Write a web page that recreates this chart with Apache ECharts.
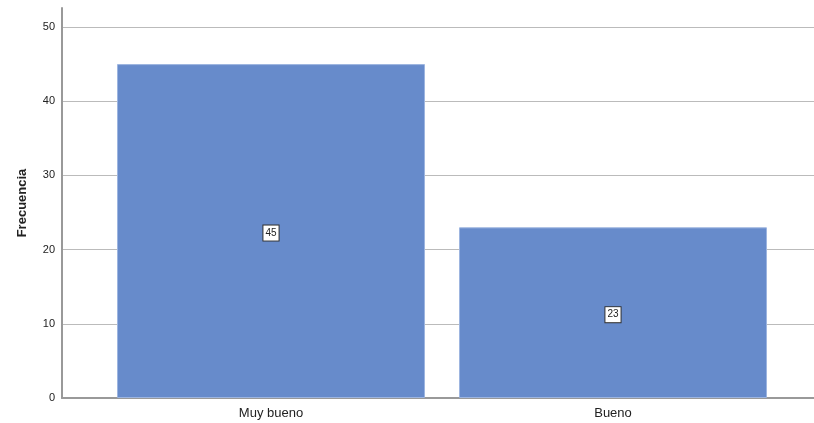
<!DOCTYPE html>
<html><head><meta charset="utf-8">
<script src="https://cdn.jsdelivr.net/npm/echarts@6/dist/echarts.min.js"></script>
<style>html,body{margin:0;padding:0;background:#fff}#c{width:814px;height:423px}</style>
</head><body><div id="c"></div>
<script>
const categories = ['Muy bueno', 'Bueno'];
const frecuencia = [45, 23];
const yTicks = [0, 10, 20, 30, 40, 50];

const yMax = 52.56;
const chart = echarts.init(document.getElementById('c'), null, {renderer: 'canvas'});
chart.setOption({
  animation: false,
  grid: [
    {left: 62, right: 0, top: 8, bottom: 25},
    {left: 100, right: 30, top: 8, bottom: 25}
  ],
  xAxis: [
    {type: 'value', gridIndex: 0, min: 0, max: 1, axisLine: {show: true, lineStyle: {color: '#999', width: 2}},
     axisTick: {show: false}, axisLabel: {show: false}, splitLine: {show: false}},
    {type: 'category', gridIndex: 1, data: categories, axisLine: {show: false}, axisTick: {show: false},
     axisLabel: {color: '#222', fontSize: 13, fontFamily: 'Liberation Sans, Arial, sans-serif', margin: 9}}
  ],
  yAxis: [
    {type: 'value', gridIndex: 0, min: 0, max: yMax, interval: 10,
     name: 'Frecuencia', nameLocation: 'middle', nameGap: 33,
     nameTextStyle: {fontSize: 13, fontWeight: 'bold', color: '#222', fontFamily: 'Liberation Sans, Arial, sans-serif'},
     axisLine: {show: true, lineStyle: {color: '#999', width: 2}}, axisTick: {show: false},
     axisLabel: {color: '#222', fontSize: 11, fontFamily: 'Liberation Sans, Arial, sans-serif', margin: 7, showMaxLabel: false,
       formatter: v => yTicks.includes(v) ? String(v) : ''},
     splitLine: {show: true, showMaxLine: false, lineStyle: {color: '#bbb', width: 1}}},
    {type: 'value', gridIndex: 1, min: 0, max: yMax, show: false, splitLine: {show: false}}
  ],
  series: [{
    type: 'bar', xAxisIndex: 1, yAxisIndex: 1, data: frecuencia, barWidth: 308,
    itemStyle: {color: '#678bcb', borderColor: '#9db5e0', borderWidth: 1},
    label: {show: true, position: 'inside', offset: [0, 2], fontSize: 10, color: '#222',
      fontFamily: 'Liberation Sans, Arial, sans-serif',
      backgroundColor: '#fff', borderColor: '#333', borderWidth: 1, padding: [3, 2, 2, 2]}
  }]
});
</script></body></html>
